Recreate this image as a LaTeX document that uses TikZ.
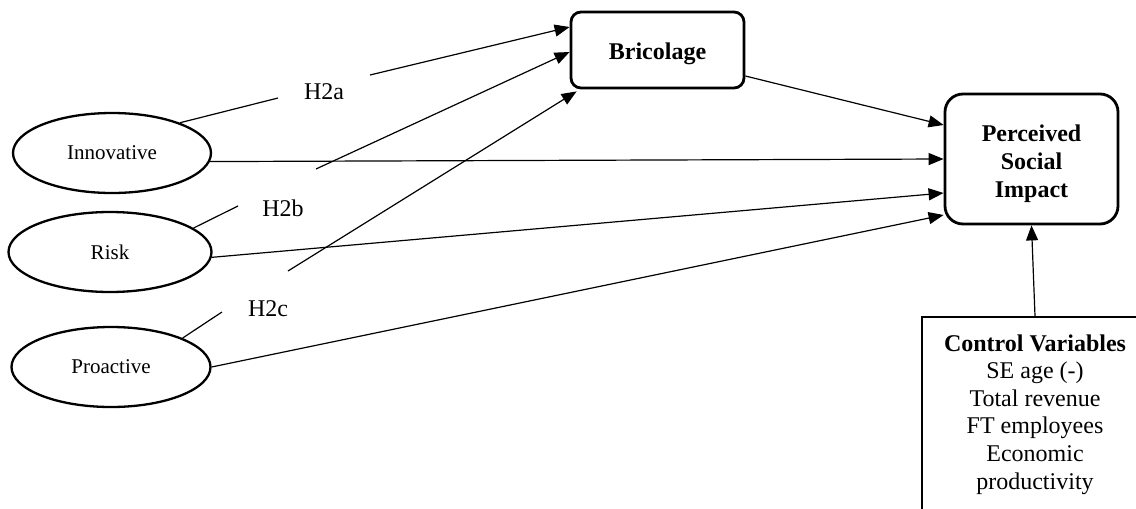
\documentclass[tikz,border=0pt]{standalone}
\usepackage{fontspec}
\setmainfont{Liberation Serif}
\usetikzlibrary{arrows.meta,shapes.geometric,calc}
\begin{document}
\begin{tikzpicture}[x=0.5pt,y=-0.5pt,
  conn/.style={line width=0.6pt},
  arr/.style={conn,-{Triangle[length=7.5pt,width=6pt]}},
  rbox/.style={draw,line width=1.4pt,rounded corners=5pt,inner sep=0pt},
  btext/.style={align=center,font=\fontsize{12}{14}\selectfont\bfseries,inner sep=0pt},
  oval/.style={draw,ellipse,line width=1.15pt,inner sep=0pt,minimum height=40pt,font=\fontsize{10.5}{12}\selectfont},
  hyp/.style={font=\fontsize{12}{14}\selectfont,inner sep=0pt},
  ]
\path[use as bounding box, clip] (0,0) rectangle (1136,509);
\node[rbox,minimum width=86.5pt,minimum height=38pt] (bric) at (657.5,50) {};
\node[btext] (bricT) at ([yshift=-2pt]bric.center) {Bricolage};
\node[rbox,rounded corners=9pt,minimum width=86.5pt,minimum height=65pt] (psi) at (1031.5,159) {};
\node[btext] (psiT) at ([yshift=-2.2pt]psi.center) {Perceived\\Social\\Impact};
\node[oval,minimum width=99pt] (inn) at (112,153) {\raisebox{-1pt}{Innovative}};
\node[oval,minimum width=101.5pt] (risk) at (110,252) {Risk};
\node[oval,minimum width=99.5pt] (pro) at (111,367) {Proactive};
\node[draw,line width=1.15pt,anchor=north west,minimum width=120pt,minimum height=110pt,inner sep=0pt] (ctrl) at (921,316) {};
\node[anchor=north,align=center,inner sep=0pt,font=\fontsize{12}{13.8}\selectfont] (ctrltext) at (1035,334) {\textbf{Control Variables}\\SE age (-)\\Total revenue\\FT employees\\Economic\\productivity};
\node[hyp] (h2a) at (324,92) {H2a};
\node[hyp] (h2b) at (283,208) {H2b};
\node[hyp] (h2c) at (268,309) {H2c};
\coordinate (a1) at (278,98); \coordinate (a2) at (370,75);
\coordinate (b1) at (238,206); \coordinate (b2) at (316,169);
\coordinate (c1) at (222,312); \coordinate (c2) at (288,271);
\draw[conn] (inn.24) -- (a1);
\draw[arr] (a2) -- ([yshift=11.5pt]bric.west);
\draw[conn] (risk.16.5) -- (b1);
\draw[arr] (b2) -- ([yshift=-1pt]bric.west);
\draw[conn] (pro.22.5) -- (c1);
\draw[arr] (c2) -- ([xshift=3.5pt,yshift=-1pt]bric.south west);
\draw[arr] (inn.-5.3) -- (psi.west);
\draw[arr] (risk.-3) -- ([yshift=-17pt]psi.west);
\draw[arr] (pro.east) -- ([yshift=-28pt]psi.west);
\draw[arr] ([yshift=-13pt]bric.east) -- ([yshift=17pt]psi.west);
\draw[arr] (ctrl.north -| ctrltext.north) -- (psi.south);
\end{tikzpicture}
\end{document}
